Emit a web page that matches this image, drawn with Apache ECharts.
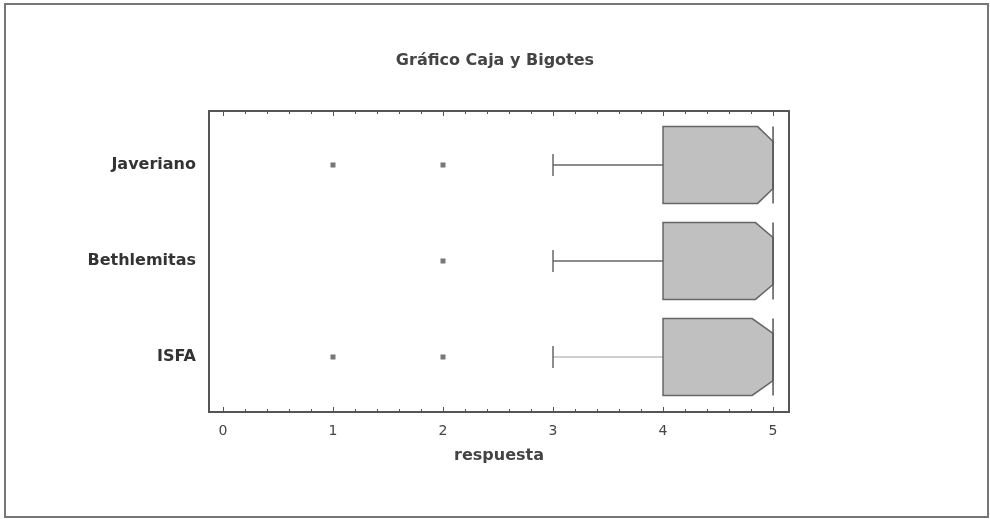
<!DOCTYPE html>
<html><head><meta charset="utf-8">
<script src="https://cdn.jsdelivr.net/npm/echarts@6/dist/echarts.min.js"></script>
<style>html,body{margin:0;padding:0;background:#fff}#c{width:990px;height:519px}</style>
</head><body><div id="c"></div>
<script>
// ---- data ----
var categories = ['Javeriano', 'Bethlemitas', 'ISFA'];
var whiskerLow = [3, 3, 3];
var q1 = [4, 4, 4];
var median = [5, 5, 5];
var q3 = [5, 5, 5];
var notchLow = [4.86, 4.84, 4.81];
var outlierValues = [[1, 2], [2], [1, 2]];
var xTicks = [0, 1, 2, 3, 4, 5];
var xTitle = 'respuesta';
var chartTitle = 'Gráfico Caja y Bigotes';

// ---- build ----
var boxData = categories.map(function (c, i) {
  return [i + 1, whiskerLow[i], q1[i], median[i], q3[i], notchLow[i]];
});
var outlierData = [];
outlierValues.forEach(function (arr, i) {
  arr.forEach(function (v) { outlierData.push([v, i + 1]); });
});
var minorTicks = [];
for (var t = 0; t <= 5.0001; t += 0.2) minorTicks.push(Math.round(t * 10) / 10);
var whiskerColors = ['#666', '#666', '#bdbdbd'];
var FONT = 'DejaVu Sans, Verdana, sans-serif';

var chart = echarts.init(document.getElementById('c'), null, { renderer: 'canvas' });
var X_MIN = -0.127, X_MAX = 5.145;
function xAxisDef(pos, major) {
  return {
    type: 'value', position: pos, min: X_MIN, max: X_MAX,
    gridIndex: 0,
    axisLine: { show: false },
    splitLine: { show: false },
    axisTick: { show: true, inside: true, length: major ? 5 : 3,
      customValues: major ? xTicks : minorTicks,
      lineStyle: { color: '#555', width: 1 } },
    axisLabel: (major && pos === 'bottom') ? {
      show: true, customValues: xTicks, margin: 12,
      color: '#444', fontSize: 14, fontFamily: FONT,
      formatter: function (v) { return String(Math.round(v)); }
    } : { show: false },
    name: (major && pos === 'bottom') ? xTitle : '',
    nameLocation: 'middle', nameGap: 36,
    nameTextStyle: { color: '#444', fontSize: 16, fontWeight: 'bold', fontFamily: FONT }
  };
}

var option = {
  animation: false,
  backgroundColor: '#fff',
  title: {
    text: chartTitle, left: 'center', top: 48,
    textStyle: { color: '#444', fontSize: 16, fontWeight: 'bold', fontFamily: FONT }
  },
  graphic: [{
    type: 'rect', shape: { x: 5, y: 4, width: 983, height: 513 },
    style: { fill: 'none', stroke: '#777', lineWidth: 2 }, silent: true, z: 100
  }],
  grid: { left: 209, right: 201, top: 111, bottom: 107, show: true,
    borderColor: '#555', borderWidth: 2, backgroundColor: 'transparent' },
  xAxis: [xAxisDef('bottom', true), xAxisDef('bottom', false), xAxisDef('top', true), xAxisDef('top', false)],
  yAxis: [{
    type: 'value', inverse: true, min: 0.4375, max: 3.573,
    axisLine: { show: false }, axisTick: { show: false }, splitLine: { show: false },
    axisLabel: {
      show: true, customValues: [1, 2, 3], margin: 13,
      color: '#333', fontSize: 16, fontWeight: 'bold', fontFamily: FONT,
      formatter: function (v) { return categories[Math.round(v) - 1] || ''; }
    }
  }],
  series: [{
    type: 'custom',
    xAxisIndex: 0, yAxisIndex: 0,
    data: boxData,
    encode: { x: [1, 2, 3, 4, 5], y: 0 },
    renderItem: function (params, api) {
      var y = api.value(0), lo = api.value(1), a = api.value(2), med = api.value(3),
          b = api.value(4), nl = api.value(5);
      var H = 0.4, D = 0.155, C = 0.115;
      function p(x, yy) { return api.coord([x, yy]); }
      var col = whiskerColors[params.dataIndex];
      var pts = [p(a, y - H), p(nl, y - H), p(med, y - H + D), p(med, y + H - D), p(nl, y + H), p(a, y + H)];
      return {
        type: 'group',
        children: [
          { type: 'line', shape: { x1: p(lo, y)[0], y1: p(lo, y)[1], x2: p(a, y)[0], y2: p(a, y)[1] },
            style: { stroke: col, lineWidth: 1.5 } },
          { type: 'line', shape: { x1: p(lo, y - C)[0], y1: p(lo, y - C)[1], x2: p(lo, y + C)[0], y2: p(lo, y + C)[1] },
            style: { stroke: '#666', lineWidth: 1.5 } },
          { type: 'polygon', shape: { points: pts },
            style: { fill: '#c0c0c0', stroke: '#666', lineWidth: 1.5 } },
          { type: 'line', shape: { x1: p(med, y - H)[0], y1: p(med, y - H)[1], x2: p(med, y + H)[0], y2: p(med, y + H)[1] },
            style: { stroke: '#555', lineWidth: 1.5 } }
        ]
      };
    }
  }, {
    type: 'scatter', xAxisIndex: 0, yAxisIndex: 0,
    data: outlierData, symbol: 'rect', symbolSize: 5,
    itemStyle: { color: '#555' }
  }]
};
chart.setOption(option);
</script></body></html>
